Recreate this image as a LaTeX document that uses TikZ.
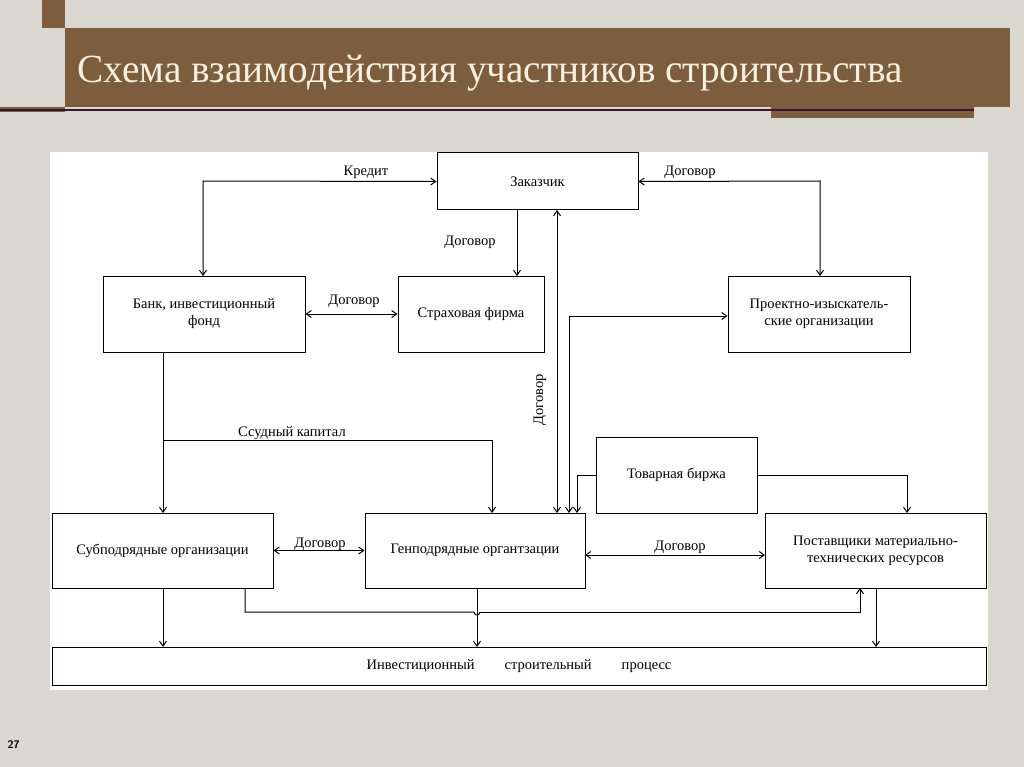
\documentclass[tikz,border=0pt]{standalone}
\usepackage{fontspec}
\setmainfont{Liberation Serif}
\usetikzlibrary{arrows.meta}
\definecolor{bg}{RGB}{218,215,208}
\definecolor{brn}{RGB}{124,93,62}
\definecolor{ttl}{RGB}{248,240,222}
\definecolor{dk}{RGB}{60,20,45}
\begin{document}
\begin{tikzpicture}[x=1pt,y=-1pt,
  box/.style={draw,line width=1pt,fill=white,align=center,inner sep=2pt,font=\fontsize{14.5}{17}\selectfont},
  lab/.style={font=\fontsize{14.5}{17}\selectfont,inner sep=1pt},
  con/.style={line width=1pt,-{Straight Barb[length=5pt,width=7pt]}},
  dcon/.style={line width=1pt,{Straight Barb[length=5pt,width=7pt]}-{Straight Barb[length=5pt,width=7pt]}},
  ln/.style={line width=1pt}]
\useasboundingbox (0,0) rectangle (1024,767);
\fill[bg] (0,0) rectangle (1024,767);
% header
\fill[brn] (42,0) rectangle (65,28);
\fill[brn] (65,28) rectangle (1010,107);
\fill[brn] (771,107) rectangle (974,118);
\fill[brn] (0,107) rectangle (65,112);
\draw[dk,line width=1.5pt] (0,110) -- (974,110);
\node[ttl,anchor=west,font=\fontsize{40}{44}\selectfont,xscale=0.98] (title) at (74,73) {Схема взаимодействия участников строительства};
\node[font=\sffamily\bfseries\fontsize{11}{12}\selectfont,anchor=west] (pg) at (4,745) {27};
% panel
\fill[white] (50,152) rectangle (988,690);
% boxes
\node[box,minimum width=201pt,minimum height=57pt] (zak) at (537.5,181.5) {Заказчик};
\node[box,minimum width=202pt,minimum height=76pt] (bank) at (204,314) {Банк, инвестиционный\\фонд};
\node[box,minimum width=146pt,minimum height=76pt] (str) at (471,314) {Страховая фирма};
\node[box,minimum width=182pt,minimum height=76pt] (proj) at (819,314) {Проектно-изыскатель-\\ские организации};
\node[box,minimum width=161pt,minimum height=76pt] (bir) at (676.5,475) {Товарная биржа};
\node[box,minimum width=221pt,minimum height=75pt] (sub) at (162.5,550.5) {Субподрядные организации};
\node[box,minimum width=220pt,minimum height=75pt] (gen) at (475,550.5) {Генподрядные органтзации};
\node[box,minimum width=221pt,minimum height=75pt] (pos) at (875.5,550.5) {Поставщики материально-\\технических ресурсов};
\node[box,minimum width=934pt,minimum height=38pt] (proc) at (519,666) {Инвестиционный\hspace{30pt}строительный\hspace{30pt}процесс};
% connectors
\draw[dcon] (zak.west) -- (203,181) -- (203,276);
\node[lab] (l1) at (366,172) {Кредит};
\draw[dcon] (zak.east) -- (820,181) -- (820,276);
\node[lab] (l2) at (690,172) {Договор};
\draw[con] (517,210) -- (517,276);
\node[lab] (l3) at (470,242) {Договор};
\draw[dcon] (bank.east) -- (str.west);
\node[lab] (l4) at (354,301) {Договор};
\draw[dcon] (557,210) -- (557,513);
\node[lab,rotate=90] (l5) at (540,400) {Договор};
\draw[dcon] (569,513) -- (569,316) -- (proj.west |- 0,316);
\draw[con] (bir.west) -- (577,475) -- (577,513);
\draw[con] (bir.east) -- (907,475) -- (907,513);
\draw[con] (163,352) -- (163,513);
\draw[con] (163,440) -- (492,440) -- (492,513);
\node[lab] (l6) at (292,433) {Ссудный капитал};
\draw[dcon] (sub.east) -- (gen.west);
\node[lab] (l7) at (320,544) {Договор};
\draw[dcon] (585,555) -- (765,555);
\node[lab] (l8) at (680,547) {Договор};
\draw[con] (163,588) -- (163,647);
\draw[con] (477,588) -- (477,647);
\draw[ln] (245,588) -- (245,612) -- (474,612) arc (180:0:3);
\draw[con] (480,612) -- (860,612) -- (860,588);
\draw[con] (876,588) -- (876,647);
\end{tikzpicture}
\end{document}
